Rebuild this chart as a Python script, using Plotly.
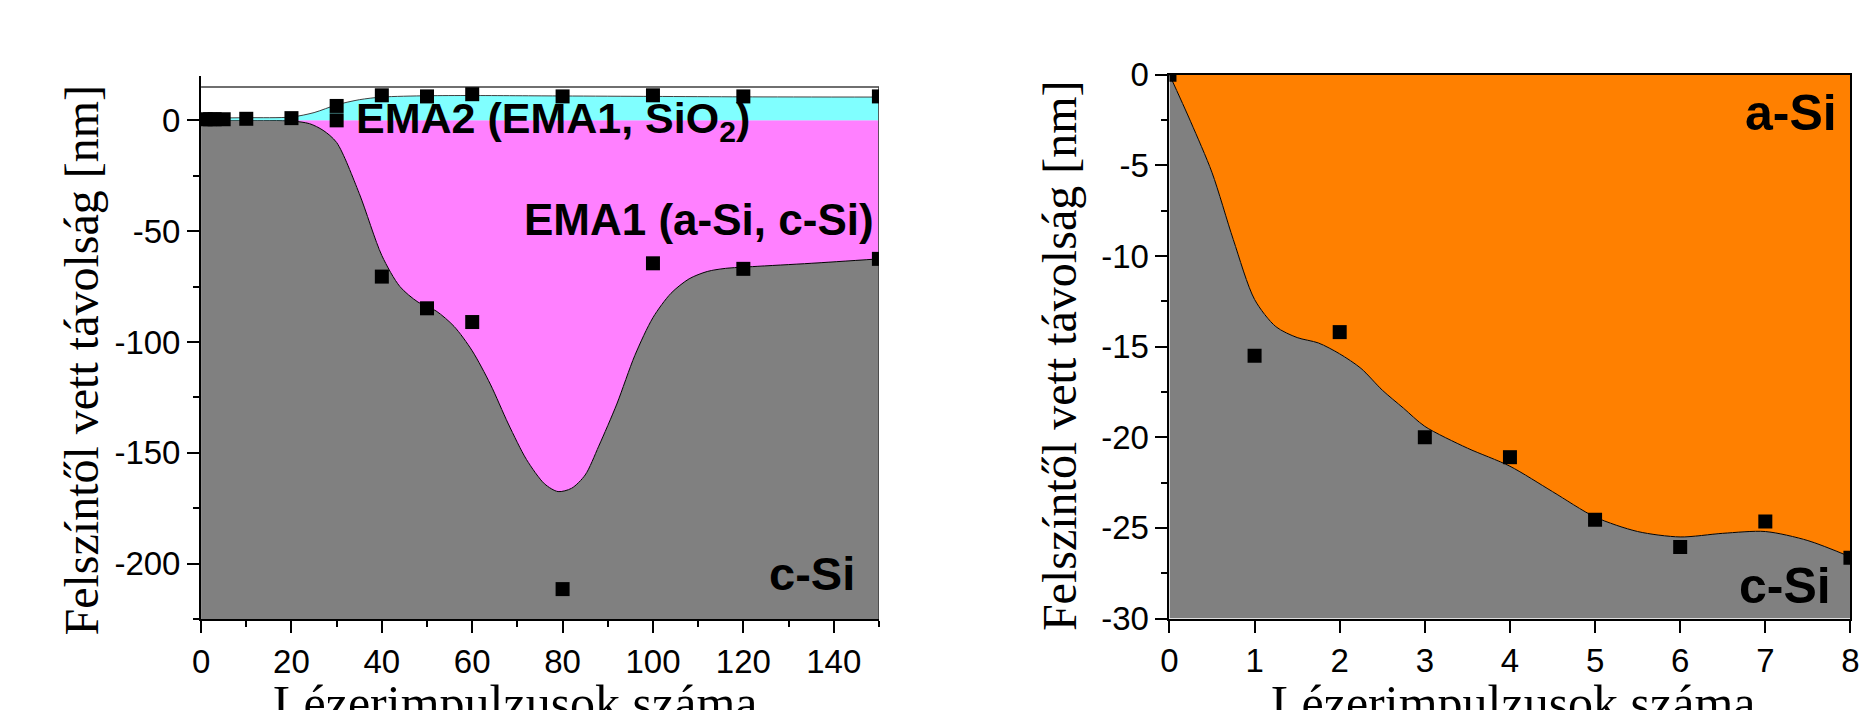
import plotly.graph_objects as go

# ---------------- Left panel data ----------------
left_x_ticks = [0, 20, 40, 60, 80, 100, 120, 140]
left_x_ticktext = ["0", "20", "40", "60", "80", "100", "120", "140"]
left_y_ticks = [0, -50, -100, -150, -200]
left_y_ticktext = ["0", "-50", "-100", "-150", "-200"]
left_x_range = [0, 150]
left_y_range = [-225, 20]
void_top = 15

# EMA1 / c-Si interface (smoothed curve)
lower_curve_x = [0, 10, 20, 24, 27, 30, 35, 40, 44, 48, 52, 56, 60, 64, 68, 72, 76, 79,
                 82, 85, 88, 92, 96, 100, 104, 108, 112, 116, 122, 135, 150]
lower_curve_y = [0, 0, -0.3, -1.5, -4.5, -10, -33, -61, -75, -82, -86, -93, -104, -119,
                 -137, -153, -164, -167.5, -166, -160, -147, -128, -106, -89, -78, -71.5,
                 -68.2, -66.8, -66, -64.5, -62.5]
# EMA2 top (smoothed curve)
upper_curve_x = [0, 10, 20, 25, 30, 35, 40, 50, 60, 80, 100, 120, 150]
upper_curve_y = [1, 1.2, 1.5, 3.5, 7, 9.3, 10.5, 11.1, 11.2, 11, 10.8, 10.6, 10.5]

# measured points
top_pts_x = [1, 2, 3, 5, 10, 20, 30, 30, 40, 50, 60, 80, 100, 120, 150]
top_pts_y = [0.5, 0.5, 0.5, 0.5, 0.7, 1.0, 6.5, 0, 11.3, 10.8, 11.8, 10.8, 11.3, 10.8, 10.8]
bot_pts_x = [40, 50, 60, 80, 100, 120, 150]
bot_pts_y = [-70.5, -84.8, -91, -211.5, -64.5, -67, -62.5]

# ---------------- Right panel data ----------------
right_x_ticks = [0, 1, 2, 3, 4, 5, 6, 7, 8]
right_x_ticktext = ["0", "1", "2", "3", "4", "5", "6", "7", "8"]
right_y_ticks = [0, -5, -10, -15, -20, -25, -30]
right_y_ticktext = ["0", "-5", "-10", "-15", "-20", "-25", "-30"]
right_x_range = [0, 8]
right_y_range = [-30, 0]

asi_curve_x = [0, 0.25, 0.5, 0.75, 1, 1.25, 1.5, 1.75, 2, 2.25, 2.5, 2.75, 3, 3.5, 4, 4.5,
               5, 5.5, 6, 6.5, 7, 7.5, 8]
asi_curve_y = [0, -2.6, -5.4, -9.1, -12.4, -13.9, -14.5, -14.8, -15.4, -16.2, -17.4, -18.4,
               -19.4, -20.6, -21.6, -23, -24.4, -25.2, -25.5, -25.3, -25.2, -25.7, -26.6]
asi_pts_x = [0, 1, 2, 3, 4, 5, 6, 7, 8]
asi_pts_y = [0, -15.5, -14.2, -20, -21.1, -24.55, -26.05, -24.65, -26.65]

GRAY = "#808080"
MAGENTA = "#FF80FF"
CYAN = "#80FFFF"
ORANGE = "#FF8000"

fig = go.Figure()

# ---- left panel fills ----
fig.add_trace(go.Scatter(x=left_x_range, y=[left_y_range[0]] * 2, mode="lines",
                         line=dict(width=0), showlegend=False, hoverinfo="skip",
                         xaxis="x", yaxis="y"))
fig.add_trace(go.Scatter(x=lower_curve_x, y=lower_curve_y, mode="lines",
                         line=dict(color="black", width=1, shape="spline", smoothing=0.8),
                         fill="tonexty", fillcolor=GRAY, showlegend=False,
                         xaxis="x", yaxis="y"))
fig.add_trace(go.Scatter(x=left_x_range, y=[0, 0], mode="lines", line=dict(width=0),
                         fill="tonexty", fillcolor=MAGENTA, showlegend=False,
                         hoverinfo="skip", xaxis="x", yaxis="y"))
fig.add_trace(go.Scatter(x=upper_curve_x, y=upper_curve_y, mode="lines",
                         line=dict(color="#404040", width=1, shape="spline", smoothing=0.8),
                         fill="tonexty", fillcolor=CYAN, showlegend=False,
                         xaxis="x", yaxis="y"))
fig.add_trace(go.Scatter(x=[left_x_range[0], left_x_range[1], left_x_range[1]],
                         y=[void_top, void_top, left_y_range[0]], mode="lines",
                         line=dict(color="#404040", width=1.5), showlegend=False,
                         hoverinfo="skip", xaxis="x", yaxis="y"))
fig.add_trace(go.Scatter(x=top_pts_x, y=top_pts_y, mode="markers",
                         marker=dict(symbol="square", size=14, color="black"),
                         showlegend=False, xaxis="x", yaxis="y"))
fig.add_trace(go.Scatter(x=bot_pts_x, y=bot_pts_y, mode="markers",
                         marker=dict(symbol="square", size=14, color="black"),
                         showlegend=False, xaxis="x", yaxis="y"))

# ---- right panel fills ----
fig.add_trace(go.Scatter(x=right_x_range, y=[right_y_range[0]] * 2, mode="lines",
                         line=dict(width=0), showlegend=False, hoverinfo="skip",
                         xaxis="x2", yaxis="y2"))
fig.add_trace(go.Scatter(x=asi_curve_x, y=asi_curve_y, mode="lines",
                         line=dict(color="black", width=1, shape="spline", smoothing=0.8),
                         fill="tonexty", fillcolor=GRAY, showlegend=False,
                         xaxis="x2", yaxis="y2"))
fig.add_trace(go.Scatter(x=right_x_range, y=[right_y_range[1]] * 2, mode="lines",
                         line=dict(width=0), fill="tonexty", fillcolor=ORANGE,
                         showlegend=False, hoverinfo="skip", xaxis="x2", yaxis="y2"))
fig.add_trace(go.Scatter(x=asi_pts_x, y=asi_pts_y, mode="markers",
                         marker=dict(symbol="square", size=14, color="black"),
                         showlegend=False, xaxis="x2", yaxis="y2"))

tick_font = dict(family="Liberation Sans, Arial, sans-serif", size=33, color="black")
xtitle_font = dict(family="Liberation Serif, Times New Roman, serif", size=50, color="black")
ytitle_font = dict(family="Liberation Serif, Times New Roman, serif", size=48, color="black")
SANS = "Liberation Sans, Arial, sans-serif"


def axis(domain, rng, tickvals, ticktext, minor_dtick, anchor, mirror=False):
    d = dict(domain=domain, range=rng, tickmode="array", tickvals=tickvals,
             ticktext=ticktext, ticks="outside", ticklen=12, tickwidth=2,
             tickcolor="black", showline=True, linewidth=2, linecolor="black",
             showgrid=False, zeroline=False, tickfont=tick_font, anchor=anchor,
             automargin=False, mirror=mirror, layer="above traces")
    if minor_dtick is not None:
        d["minor"] = dict(tickmode="linear", tick0=0, dtick=minor_dtick, ticks="outside",
                          ticklen=6, tickwidth=2, tickcolor="black", showgrid=False)
    return d


# The page body has an 8 px margin, so the figure is 1853x702 placed at (8, 8).
fig.update_layout(
    width=1853, height=702, template="none",
    paper_bgcolor="white", plot_bgcolor="white",
    margin=dict(l=0, r=0, t=0, b=0),
    showlegend=False,
    xaxis=axis([0.1042, 0.4700], left_x_range, left_x_ticks, left_x_ticktext, 10, "y"),
    yaxis=axis([0.1296, 0.9031], left_y_range, left_y_ticks, left_y_ticktext, 25, "x"),
    xaxis2=axis([0.6268, 0.9943], right_x_range, right_x_ticks, right_x_ticktext, None,
                "y2", mirror=True),
    yaxis2=axis([0.1303, 0.9050], right_y_range, right_y_ticks, right_y_ticktext, 2.5,
                "x2", mirror=True),
)

annotations = [
    # axis titles
    dict(text="Lézerimpulzusok száma", xref="paper", yref="paper", x=0.2739, y=0.052,
         xanchor="center", yanchor="top", showarrow=False, font=xtitle_font),
    dict(text="Lézerimpulzusok száma", xref="paper", yref="paper", x=0.8126, y=0.052,
         xanchor="center", yanchor="top", showarrow=False, font=xtitle_font),
    dict(text="Felszíntől vett távolság [nm]", xref="paper", yref="paper", x=0.0243,
         y=0.4986, xanchor="left", yanchor="middle", textangle=-90, showarrow=False,
         font=ytitle_font),
    dict(text="Felszíntől vett távolság [nm]", xref="paper", yref="paper", x=0.5524,
         y=0.5043, xanchor="left", yanchor="middle", textangle=-90, showarrow=False,
         font=ytitle_font),
    # region labels, left
    dict(text="<b>Void</b>", xref="x", yref="y", x=149, y=27.8, xanchor="right",
         yanchor="middle", showarrow=False, font=dict(family=SANS, size=38, color="black")),
    dict(text="<b>EMA2 (EMA1, SiO<sub>2</sub>)</b>", xref="x", yref="y", x=33.8, y=-0.3,
         xanchor="left", yanchor="middle", showarrow=False,
         font=dict(family=SANS, size=43, color="black")),
    dict(text="<b>EMA1 (a-Si, c-Si)</b>", xref="x", yref="y", x=149.4, y=-44.6,
         xanchor="right", yanchor="middle", showarrow=False,
         font=dict(family=SANS, size=44, color="black")),
    dict(text="<b>c-Si</b>", xref="x", yref="y", x=145.2, y=-204.5, xanchor="right",
         yanchor="middle", showarrow=False, font=dict(family=SANS, size=47, color="black")),
    # region labels, right
    dict(text="<b>a-Si</b>", xref="x2", yref="y2", x=7.86, y=-2.1, xanchor="right",
         yanchor="middle", showarrow=False, font=dict(family=SANS, size=50, color="black")),
    dict(text="<b>c-Si</b>", xref="x2", yref="y2", x=7.79, y=-28.2, xanchor="right",
         yanchor="middle", showarrow=False, font=dict(family=SANS, size=50, color="black")),
]
fig.update_layout(annotations=annotations)

fig.write_html("out.html")
